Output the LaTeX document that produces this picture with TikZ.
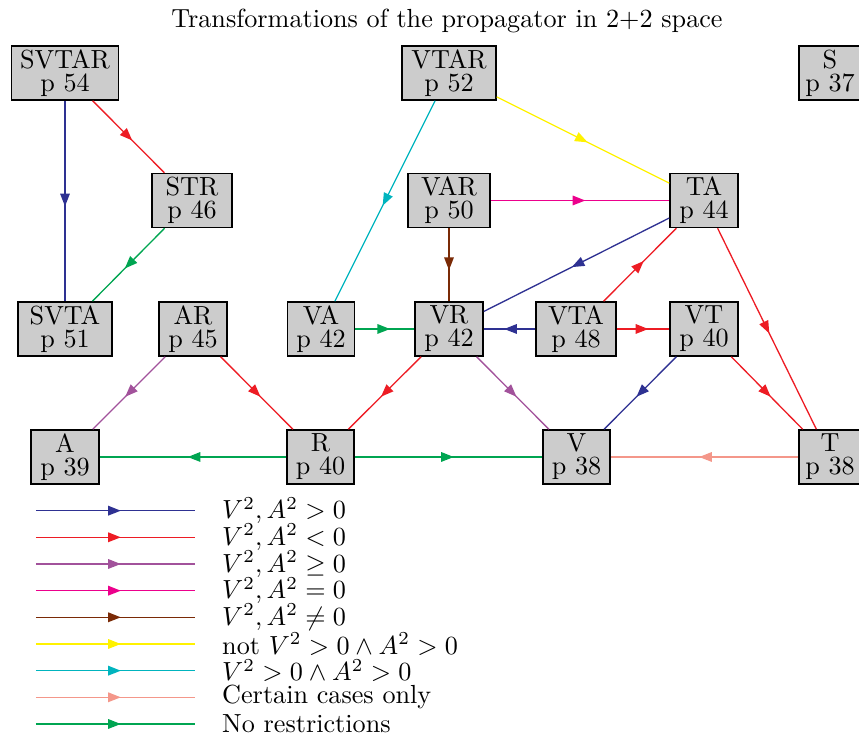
\documentclass[tikz,border=0pt]{standalone}
\usetikzlibrary{decorations.markings}
\definecolor{cblue}{HTML}{2E3192}
\definecolor{cred}{HTML}{ED1C24}
\definecolor{cpurple}{HTML}{A2529B}
\definecolor{cmagenta}{HTML}{EC008C}
\definecolor{cbrown}{HTML}{7A2A06}
\definecolor{cyellow}{HTML}{FFF200}
\definecolor{ccyan}{HTML}{00B4BE}
\definecolor{csalmon}{HTML}{F4978A}
\definecolor{cgreen}{HTML}{00A551}
\tikzset{
  nd/.style={draw=black, fill=black!20, line width=0.6pt, align=center,
    inner xsep=0pt, inner ysep=0pt, minimum height=54*0.382pt,
    font=\fontsize{10}{8.8}\selectfont},
  bw/.style={minimum width=#1*0.382pt},
  midarrow/.style={postaction={decorate}, decoration={markings,
    mark=at position 0.5 with {\fill (-2.8pt,1.9pt) -- (2pt,0pt) -- (-2.8pt,-1.9pt) -- cycle;}}},
  ed/.style={line width=0.5pt, midarrow},
  legtext/.style={anchor=west, inner sep=0pt}
}
\begin{document}
\begin{tikzpicture}[x=0.382pt,y=-0.382pt]
\useasboundingbox (0,0) rectangle (859,737);

\node (title) at (447,20.5) {Transformations of the propagator in 2+2 space};

% nodes
\node[nd, bw=107] (SVTAR) at (65,73) {SVTAR\\p 54};
\node[nd, bw=94]  (VTAR)  at (449,73)  {VTAR\\p 52};
\node[nd, bw=62]  (S)     at (830,73)  {S\\p 37};
\node[nd, bw=80]  (STR)   at (192,200.5) {STR\\p 46};
\node[nd, bw=82]  (VAR)   at (449,200.5) {VAR\\p 50};
\node[nd, bw=68]  (TA)    at (704,200.5) {TA\\p 44};
\node[nd, bw=94]  (SVTA)  at (65,329) {SVTA\\p 51};
\node[nd, bw=68]  (AR)    at (193,329) {AR\\p 45};
\node[nd, bw=67]  (VA)    at (321,329) {VA\\p 42};
\node[nd, bw=68]  (VR)    at (449,329) {VR\\p 42};
\node[nd, bw=80]  (VTA)   at (576,329) {VTA\\p 48};
\node[nd, bw=68]  (VT)    at (704,329) {VT\\p 40};
\node[nd, bw=68]  (A)     at (65,457) {A\\p 39};
\node[nd, bw=67]  (R)     at (320.5,457) {R\\p 40};
\node[nd, bw=67]  (V)     at (576.5,457) {V\\p 38};
\node[nd, bw=62]  (T)     at (830,457) {T\\p 38};

% edges
\draw[ed, cblue]    (SVTAR) -- (SVTA);
\draw[ed, cred]     (SVTAR) -- (STR);
\draw[ed, cgreen]   (STR) -- (SVTA);
\draw[ed, ccyan]    (VTAR) -- (VA);
\draw[ed, cyellow]  (VTAR) -- (TA);
\draw[ed, cmagenta] (VAR) -- (TA);
\draw[ed, cbrown]   (VAR) -- (VR);
\draw[ed, cblue]    (TA) -- (VR);
\draw[ed, cred]     (VTA) -- (TA);
\draw[ed, cred]     (TA) -- (T);
\draw[ed, cgreen]   (VA) -- (VR);
\draw[ed, cblue]    (VTA) -- (VR);
\draw[ed, cred]     (VTA) -- (VT);
\draw[ed, cblue]    (VT) -- (V);
\draw[ed, cred]     (VT) -- (T);
\draw[ed, cpurple]  (AR) -- (A);
\draw[ed, cred]     (AR) -- (R);
\draw[ed, cred]     (VR) -- (R);
\draw[ed, cpurple]  (VR) -- (V);
\draw[ed, cgreen]   (R) -- (A);
\draw[ed, cgreen]   (R) -- (V);
\draw[ed, csalmon]  (T) -- (V);

% legend
\foreach \i/\yy/\cc/\lbl in {
  1/510.7/cblue/{$V^2, A^2 > 0$},
  2/537.3/cred/{$V^2, A^2 < 0$},
  3/564/cpurple/{$V^2, A^2 \geq 0$},
  4/590.7/cmagenta/{$V^2, A^2 = 0$},
  5/617.3/cbrown/{$V^2, A^2 \neq 0$},
  6/644/cyellow/{not $V^2 > 0 \wedge A^2 > 0$},
  7/670.7/ccyan/{$V^2 > 0 \wedge A^2 > 0$},
  8/697.3/csalmon/{Certain cases only},
  9/724/cgreen/{No restrictions}}{
  \coordinate (la\i) at (36,\yy);
  \coordinate (lb\i) at (195,\yy);
  \draw[ed, \cc] (la\i) -- (lb\i);
  \node[legtext] (lt\i) at (221.7,\yy) {\lbl};
}
\end{tikzpicture}
\end{document}
